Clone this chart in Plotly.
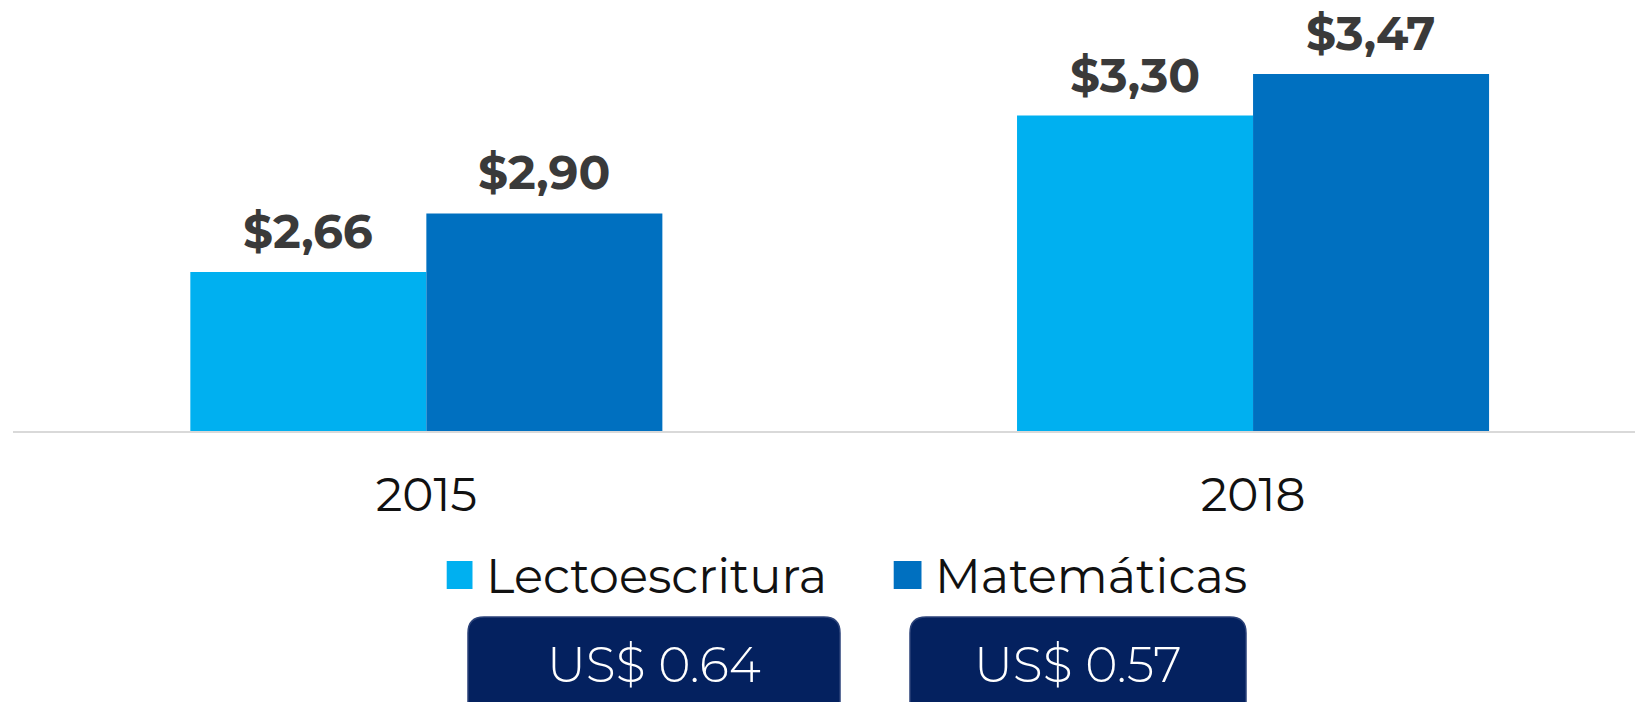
import plotly.graph_objects as go

# ---- data ----
years = ["2015", "2018"]
series_names = ["Lectoescritura", "Matemáticas"]
lecto_values = [2.66, 3.30]
mate_values = [2.90, 3.47]
increase_labels = ["US$ 0.64", "US$ 0.57"]

colors = ["#00B0F0", "#0070C0"]
FONT = "Montserrat, Open Sans, sans-serif"

W, H = 1643, 702
OFF = 8  # page body margin
ML, MR, MT, MB = 5, 0, 0, 279
PW, PH = W - ML - MR, H - MT - MB
BARGAP = 0.429
UNIT_PX = 826.7
x_range = [-0.5, -0.5 + PW / UNIT_PX]


def fmt(v):
    return "$" + f"{v:.2f}".replace(".", ",")


def px(x):
    return (x - OFF - ML) / PW


def py(y):
    return (H - MB - (y - OFF)) / PH


fig = go.Figure()
annotations = []
bar_w_px = (1 - BARGAP) / 2 * UNIT_PX
for i, (name, vals, col) in enumerate(zip(series_names, [lecto_values, mate_values], colors)):
    fig.add_trace(go.Bar(
        x=years, y=vals, name=name, marker=dict(color=col, line=dict(width=0)),
        showlegend=False, hoverinfo="x+y+name",
    ))
    shift = (i - 0.5) * bar_w_px
    for k, v in enumerate(vals):
        annotations.append(dict(x=k, y=v, xref="x", yref="y", xshift=shift, yshift=10,
                                xanchor="center", yanchor="bottom", showarrow=False,
                                text=fmt(v),
                                font=dict(family=FONT, size=47, color="#3A3A3A", weight="bold")))

shapes = []

# legend (manual, for large square swatches)
legend_sq = [(446.7, 472.5), (893.7, 921.5)]
legend_tx = [484, 933]
for (x0, x1), tx, name, col in zip(legend_sq, legend_tx, series_names, colors):
    shapes.append(dict(type="rect", xref="paper", yref="paper",
                       x0=px(x0), x1=px(x1), y0=py(589), y1=py(561),
                       fillcolor=col, line=dict(width=0)))
    annotations.append(dict(xref="paper", yref="paper", x=px(tx), y=py(576),
                            xanchor="left", yanchor="middle", showarrow=False,
                            text=name, font=dict(family=FONT, size=48, color="#111111")))


def rounded(x0, y0, x1, y1, r):
    rx, ry = r / PW, r / PH
    X0, X1, Y0, Y1 = px(x0), px(x1), py(y1), py(y0)  # Y0 bottom, Y1 top
    return (f"M {X0+rx},{Y1} L {X1-rx},{Y1} Q {X1},{Y1} {X1},{Y1-ry} "
            f"L {X1},{Y0+ry} Q {X1},{Y0} {X1-rx},{Y0} L {X0+rx},{Y0} "
            f"Q {X0},{Y0} {X0},{Y0+ry} L {X0},{Y1-ry} Q {X0},{Y1} {X0+rx},{Y1} Z")


boxes = [(468, 840), (910, 1246)]
for (x0, x1), lab in zip(boxes, increase_labels):
    shapes.append(dict(type="path", xref="paper", yref="paper",
                       path=rounded(x0, 617, x1, 730, 16),
                       fillcolor="#04215F", line=dict(color="#2B4279", width=1.5)))
    annotations.append(dict(xref="paper", yref="paper", x=px((x0 + x1) / 2), y=py(664),
                            xanchor="center", yanchor="middle", showarrow=False,
                            text=lab, font=dict(family=FONT, size=49, color="#FFFFFF", weight=300)))

fig.update_layout(
    template="none",
    width=W, height=H,
    margin=dict(l=ML, r=MR, t=MT, b=MB, pad=0),
    paper_bgcolor="white", plot_bgcolor="white",
    barmode="group", bargap=BARGAP, bargroupgap=0,
    showlegend=False,
    xaxis=dict(type="category", range=x_range, showline=True, linecolor="#D9D9D9",
               linewidth=2, showgrid=False, zeroline=False, ticks="",
               ticklabelstandoff=22, automargin=False,
               tickfont=dict(family=FONT, size=47, color="#111111")),
    yaxis=dict(range=[2.01, 3.74], showgrid=False, zeroline=False, showticklabels=False,
               showline=False, ticks="", automargin=False),
    shapes=shapes, annotations=annotations,
)

fig.write_html("out.html")
